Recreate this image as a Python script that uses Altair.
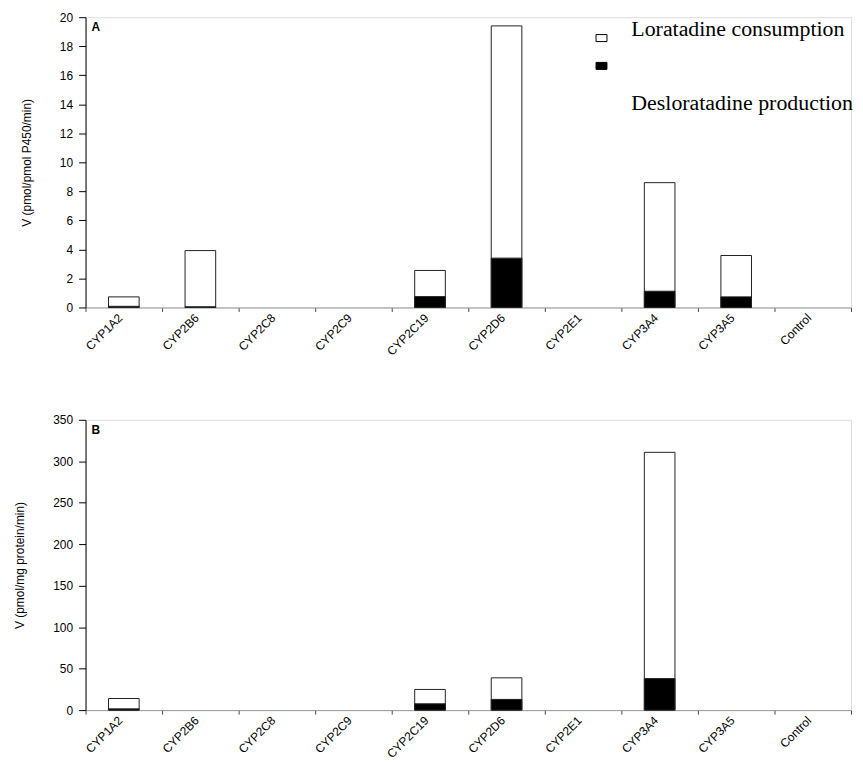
import altair as alt
import pandas as pd

categories = ["CYP1A2", "CYP2B6", "CYP2C8", "CYP2C9", "CYP2C19",
              "CYP2D6", "CYP2E1", "CYP3A4", "CYP3A5", "Control"]
series = ["Loratadine consumption", "Desloratadine production"]

# Panel A: V (pmol/pmol P450/min)
a_loratadine = [0.73, 3.92, 0, 0, 2.55, 19.4, 0, 8.6, 3.58, 0]
a_desloratadine = [0.08, 0.05, 0, 0, 0.75, 3.4, 0, 1.12, 0.73, 0]
# Panel B: V (pmol/mg protein/min)
b_loratadine = [14, 0, 0, 0, 24.9, 38.9, 0, 310.8, 0, 0]
b_desloratadine = [1.5, 0, 0, 0, 7.6, 12.9, 0, 38, 0, 0]

a_ticks = list(range(0, 21, 2))
b_ticks = list(range(0, 351, 50))

SANS = "Liberation Sans"
SERIF = "Liberation Serif"


def make_df(lor, des):
    return pd.DataFrame({
        "enzyme": categories * 2,
        "series": [series[0]] * len(categories) + [series[1]] * len(categories),
        "value": lor + des,
    })


def panel(lor, des, ymax, yticks, ytitle, letter, width, legend):
    df = make_df(lor, des)
    x = alt.X("enzyme:N", sort=categories,
              scale=alt.Scale(domain=categories, paddingInner=0, paddingOuter=0),
              axis=alt.Axis(title=None, labelAngle=315, labelAlign="right",
                            labelBaseline="middle", tickBand="extent",
                            domainColor="#999999", tickColor="#444444",
                            tickSize=4, labelPadding=4, labelOffset=-4,
                            labelFont=SANS, labelFontSize=12, labelColor="black"))
    y = alt.Y("value:Q", scale=alt.Scale(domain=[0, ymax], nice=False),
              axis=alt.Axis(title=ytitle, values=yticks, grid=False,
                            tickSize=7, labelPadding=6, domainColor="black",
                            tickColor="black", labelFont=SANS, labelFontSize=12,
                            labelColor="black", titleFont=SANS, titleFontSize=12,
                            titleFontWeight="normal", titleColor="black",
                            titlePadding=26))
    if legend:
        color = alt.Color("series:N",
                          scale=alt.Scale(domain=series, range=["white", "black"]),
                          legend=alt.Legend(orient="none", legendX=513, legendY=15,
                                            title=None,
                                            symbolType="M-1,-0.64H1V0.64H-1Z",
                                            symbolSize=121, symbolStrokeColor="black",
                                            symbolStrokeWidth=1, rowPadding=16,
                                            labelOpacity=0, labelFontSize=1,
                                            labelLimit=1))
    else:
        color = alt.Color("series:N",
                          scale=alt.Scale(domain=series, range=["white", "black"]),
                          legend=None)
    base = alt.Chart(df).encode(x=x, y=y, color=color)
    white = base.transform_filter(
        f"datum.series == '{series[0]}' && datum.value > 0"
    ).mark_bar(width=alt.RelativeBandSize(0.4), stroke="#222222", strokeWidth=1)
    black = base.transform_filter(
        f"datum.series == '{series[1]}' && datum.value > 0"
    ).mark_bar(width=alt.RelativeBandSize(0.4), stroke="#222222", strokeWidth=1)
    lbl = alt.Chart(pd.DataFrame({"t": [letter]})).mark_text(
        font=SANS, fontSize=12, fontWeight="bold", align="left", baseline="top"
    ).encode(x=alt.value(6), y=alt.value(5), text="t:N")
    layers = [white, black, lbl]
    if legend:
        t1 = alt.Chart(pd.DataFrame({"t": [series[0]]})).mark_text(
            font=SERIF, fontSize=22, align="left", baseline="top"
        ).encode(x=alt.value(549), y=alt.value(2), text="t:N")
        t2 = alt.Chart(pd.DataFrame({"t": [series[1]]})).mark_text(
            font=SERIF, fontSize=22, align="left", baseline="top"
        ).encode(x=alt.value(549), y=alt.value(76), text="t:N")
        layers += [t1, t2]
    return alt.layer(*layers).properties(width=width, height=292)


chart_a = panel(a_loratadine, a_desloratadine, 20, a_ticks,
                "V (pmol/pmol P450/min)", "A", 770, True)
chart_b = panel(b_loratadine, b_desloratadine, 350, b_ticks,
                "V (pmol/mg protein/min)", "B", 770, False)

chart = alt.vconcat(chart_a, chart_b, spacing=55).resolve_scale(
    color="independent", x="independent", y="independent"
).properties(
    padding={"left": 5, "top": 0, "right": 1, "bottom": 5}
).configure_view(stroke=None).configure(background="white")

chart.save("out.html", embed_options={"renderer": "svg", "actions": False})
